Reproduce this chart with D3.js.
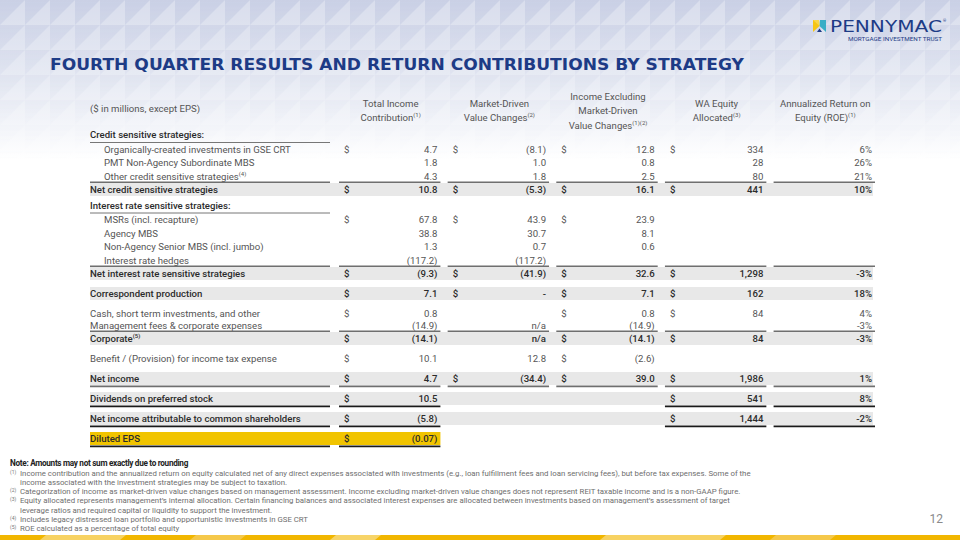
<!DOCTYPE html>
<html><head><meta charset="utf-8">
<script src="https://cdn.jsdelivr.net/npm/d3@7"></script>
<style>body{margin:0;background:#fff}svg{display:block}</style>
</head><body><svg id="c" width="960" height="540"></svg>
<script>
// ---------------- DATA ----------------
const titleText = "FOURTH QUARTER RESULTS AND RETURN CONTRIBUTIONS BY STRATEGY";
const unitsNote = "($ in millions, except EPS)";
const columnKeys = ["total", "market", "excl", "equity", "roe"];
const headerLines = [["Total Income", "Contribution"], ["Market-Driven", "Value Changes"], ["Income Excluding", "Market-Driven", "Value Changes"], ["WA Equity", "Allocated"], ["Annualized Return on", "Equity (ROE)"]];
const headerNotes = ["(1)", "(2)", "(1)(2)", "(3)", "(1)"];

const rowLabels = ["Credit sensitive strategies:", "Organically-created investments in GSE CRT", "PMT Non-Agency Subordinate MBS", "Other credit sensitive strategies", "Net credit sensitive strategies",
  "Interest rate sensitive strategies:", "MSRs (incl. recapture)", "Agency MBS", "Non-Agency Senior MBS (incl. jumbo)", "Interest rate hedges", "Net interest rate sensitive strategies",
  "Correspondent production", "Cash, short term investments, and other", "Management fees & corporate expenses", "Corporate",
  "Benefit / (Provision) for income tax expense", "Net income", "Dividends on preferred stock", "Net income attributable to common shareholders", "Diluted EPS"];
const rowNotes = ["", "", "", "(4)", "", "", "", "", "", "", "", "", "", "", "(5)", "", "", "", "", ""];
const rowKinds = ["head", "sub", "sub", "sub", "subtotal", "head", "sub", "sub", "sub", "sub", "subtotal", "band", "plain", "plain", "subtotal", "plain", "grand", "final", "final", "eps"];

const totalIncome  = [null, 4.7, 1.8, 4.3, 10.8, null, 67.8, 38.8, 1.3, -117.2, -9.3, 7.1, 0.8, -14.9, -14.1, 10.1, 4.7, 10.5, -5.8, -0.07];
const marketDriven = [null, -8.1, 1.0, 1.8, -5.3, null, 43.9, 30.7, 0.7, -117.2, -41.9, 0, null, "n/a", "n/a", 12.8, -34.4, null, null, null];
const incomeExcl   = [null, 12.8, 0.8, 2.5, 16.1, null, 23.9, 8.1, 0.6, null, 32.6, 7.1, 0.8, -14.9, -14.1, -2.6, 39.0, null, null, null];
const equityAlloc  = [null, 334, 28, 80, 441, null, null, null, null, null, 1298, 162, 84, null, 84, null, 1986, 541, 1444, null];
const roePct       = [null, 6, 26, 21, 10, null, null, null, null, null, -3, 18, 4, -3, -3, null, 1, 8, -2, null];

const totalDollar  = [0,1,0,0,1,0,1,0,0,0,1,1,1,0,1,1,1,1,1,1];
const marketDollar = [0,1,0,0,1,0,1,0,0,0,1,1,0,0,0,0,1,0,0,0];
const exclDollar   = [0,1,0,0,1,0,1,0,0,0,1,1,1,0,1,1,1,0,0,0];
const equityDollar = [0,1,0,0,1,0,0,0,0,0,1,1,1,0,1,0,1,1,1,0];
const roeDollar    = [0,0,0,0,0,0,0,0,0,0,0,0,0,0,0,0,0,0,0,0];

const footNoteHead = "Note: Amounts may not sum exactly due to rounding";
const footMarks = ["(1)", "", "(2)", "(3)", "", "(4)", "(5)"];
const footLines = [
  "Income contribution and the annualized return on equity calculated net of any direct expenses associated with investments (e.g., loan fulfillment fees and loan servicing fees), but before tax expenses.  Some of the",
  "income associated with the investment strategies may be subject to taxation.",
  "Categorization of income as market-driven value changes based on management assessment. Income excluding market-driven value changes does not represent REIT taxable income and is a non-GAAP figure.",
  "Equity allocated represents management\u2019s internal allocation. Certain financing balances and associated interest expenses are allocated between investments based on management\u2019s assessment of target",
  "leverage ratios and required capital or liquidity to support the investment.",
  "Includes legacy distressed loan portfolio and opportunistic investments in GSE CRT",
  "ROE calculated as a percentage of total equity"];
const pageNumber = "12";

// ---------------- DRAW ----------------
const svg = d3.select("#c");
const defs = svg.append("defs");
const FONT = "Roboto, 'Liberation Sans', sans-serif";

// background gradient + triangle pattern
const g1 = defs.append("linearGradient").attr("id", "bg").attr("x1", 0).attr("y1", 0).attr("x2", 0).attr("y2", 1);
g1.append("stop").attr("offset", 0).attr("stop-color", "#cdd3e7");
g1.append("stop").attr("offset", 0.45).attr("stop-color", "#e3e7f2");
g1.append("stop").attr("offset", 1).attr("stop-color", "#ffffff");
svg.append("rect").attr("width", 960).attr("height", 160).attr("fill", "url(#bg)");
const pat = defs.append("pattern").attr("id", "tri").attr("width", 25).attr("height", 25).attr("patternUnits", "userSpaceOnUse");
pat.append("path").attr("d", "M0,25 L25,0 L25,25 Z").attr("fill", "#ffffff").attr("opacity", 0.25);
pat.append("path").attr("d", "M0,0 L25,0 L0,25 Z").attr("fill", "#b8c0da").attr("opacity", 0.14);
const mg = defs.append("linearGradient").attr("id", "fade").attr("x1", 0).attr("y1", 0).attr("x2", 0).attr("y2", 1);
mg.append("stop").attr("offset", 0).attr("stop-color", "#fff");
mg.append("stop").attr("offset", 1).attr("stop-color", "#000");
defs.append("mask").attr("id", "fm").append("rect").attr("width", 960).attr("height", 160).attr("fill", "url(#fade)");
svg.append("rect").attr("width", 960).attr("height", 160).attr("fill", "url(#tri)").attr("mask", "url(#fm)");

// bottom bar
svg.append("rect").attr("x", 0).attr("y", 535).attr("width", 960).attr("height", 5).attr("fill", "#f1b600");
[[40, 120, "#f7d262"], [190, 240, "#f5c84a"], [330, 375, "#f7d468"], [600, 720, "#f7d262"], [770, 830, "#f5c84a"]].forEach(s => {
  svg.append("path").attr("d", `M${s[0]},540 L${s[0] + 6},535 L${s[1] + 6},535 L${s[1]},540 Z`).attr("fill", s[2]);
});

// title
svg.append("text").attr("x", 50).attr("y", 70).attr("font-family", "'DejaVu Sans', sans-serif").attr("font-weight", "bold")
  .attr("font-size", 16.5).attr("fill", "#1d3b86").attr("textLength", 694).attr("lengthAdjust", "spacingAndGlyphs").text(titleText);

// logo
const logo = svg.append("g");
logo.append("path").attr("d", "M813,20 L819,20 L819.5,26 L813,32 Z").attr("fill", "#f6c514");
logo.append("path").attr("d", "M820,20 L826,20 L826,32 L819.5,26 Z").attr("fill", "#39aec6");
logo.append("path").attr("d", "M813,20 L819,20 L819.5,26 Z").attr("fill", "#f8d64a");
logo.append("path").attr("d", "M817,32 L819.5,28.5 L822,32 Z").attr("fill", "#1d3b86");
logo.append("text").attr("x", 830).attr("y", 31.5).attr("font-family", "'DejaVu Sans', sans-serif").attr("font-size", 15)
  .attr("fill", "#1d3b86").attr("textLength", 112).attr("lengthAdjust", "spacingAndGlyphs").text("PENNYMAC");
logo.append("text").attr("x", 943).attr("y", 22).attr("font-family", FONT).attr("font-size", 4).attr("fill", "#1d3b86").text("\u00ae");
logo.append("text").attr("x", 848).attr("y", 40.5).attr("font-family", FONT).attr("font-size", 4.6)
  .attr("fill", "#1d3b86").attr("textLength", 94).attr("lengthAdjust", "spacingAndGlyphs").text("MORTGAGE INVESTMENT TRUST");

// table scales
const x = d3.scaleBand().domain(columnKeys).range([339, 873]).paddingInner(0.085);
const labelX0 = 90, labelX1 = 330, tableX1 = 873;
function gap(prev, k) {
  if (prev === "head") return 14.5;
  if (k === "sub") return 13.5;
  if (k === "subtotal" && prev === "sub") return 13;
  if (k === "subtotal" && prev === "plain") return 13;
  if (k === "plain" && prev === "plain") return 12;
  if (k === "head") return 16;
  return 20;
}
const offs = [];
rowKinds.forEach((k, i) => offs.push(i === 0 ? 0 : offs[i - 1] + gap(rowKinds[i - 1], k)));
const y = d3.scaleLinear().domain([0, 1]).range([135, 136]);

const colValues = [totalIncome, marketDriven, incomeExcl, equityAlloc, roePct];
const colDollar = [totalDollar, marketDollar, exclDollar, equityDollar, roeDollar];

function fmt(v, ci) {
  if (typeof v === "string") return v;
  if (ci === 4) return (v < 0 ? "-" : "") + Math.abs(v) + "%";
  if (v === 0) return "-";
  const dec = ci === 3 ? 0 : (Math.abs(Math.round(v * 10) - v * 10) < 1e-9 ? 1 : 2);
  const s = d3.format("," + "." + dec + "f")(Math.abs(v));
  return v < 0 ? "(" + s + ")" : s;
}

const boldKinds = new Set(["head", "subtotal", "band", "grand", "final", "eps"]);
const bandKinds = new Set(["subtotal", "band", "grand", "final"]);

// header
const header = svg.append("g").attr("font-family", FONT).attr("font-size", 9.6).attr("fill", "#555");
header.append("text").attr("x", labelX0).attr("y", 112).text(unitsNote);
columnKeys.forEach((c, ci) => {
  const lines = headerLines[ci];
  const cx = x(c) + x.bandwidth() / 2 + 2;
  const y0 = 110.5 - (lines.length - 1) * 14.5 / 2;
  lines.forEach((ln, li) => {
    const t = header.append("text").attr("x", cx).attr("y", y0 + li * 14.5 + 3.5).attr("text-anchor", "middle");
    t.append("tspan").text(ln);
    if (li === lines.length - 1) t.append("tspan").attr("font-size", 6).attr("dy", -4).text(headerNotes[ci]);
  });
});

// rows
const body = svg.append("g").attr("font-family", FONT).attr("font-size", 9.6);
const rows = body.selectAll("g.row").data(rowLabels.map((l, i) => i)).join("g").attr("class", "row");

rows.each(function (i) {
  const g = d3.select(this);
  const k = rowKinds[i];
  const cy = y(offs[i]);
  const bold = boldKinds.has(k);
  const col = bold ? "#2b2b2b" : "#555";
  const weight = bold ? 500 : 400;
  if (bandKinds.has(k)) g.append("rect").attr("x", labelX0).attr("y", cy - 6.5).attr("width", tableX1 - labelX0).attr("height", 13).attr("fill", "#e8e8e8");
  if (k === "eps") g.append("rect").attr("x", labelX0).attr("y", cy - 6.5).attr("width", x("total") + x.bandwidth() - labelX0 + 2).attr("height", 13).attr("fill", "#f1c400");

  const segs = [[labelX0, labelX1]];
  columnKeys.forEach((c, ci) => { if (colValues[ci][i] !== null) segs.push([x(c), x(c) + x.bandwidth() + 2]); });
  const line = (yy, color, w, list) => list.forEach(s => g.append("line").attr("x1", s[0]).attr("x2", s[1]).attr("y1", yy).attr("y2", yy).attr("stroke", color).attr("stroke-width", w));
  if (k === "head") line(cy + 7.5, "#777", 1, [[labelX0, labelX1]]);
  if (k === "subtotal") line(cy - 7.2, "#6f6f6f", 1.5, segs);
  if (k === "grand") line(cy + 7.8, "#6f6f6f", 1.8, segs);
  if (k === "final" || k === "eps") line(cy + 7.8, "#1a1a1a", 1.8, segs);

  const lx = k === "sub" ? 104 : labelX0;
  const t = g.append("text").attr("x", lx).attr("y", cy + 3.3).attr("fill", col).attr("font-weight", weight);
  t.append("tspan").text(rowLabels[i]);
  if (rowNotes[i]) t.append("tspan").attr("font-size", 6).attr("dy", -4).text(rowNotes[i]);

  columnKeys.forEach((c, ci) => {
    const v = colValues[ci][i];
    if (v === null) return;
    if (colDollar[ci][i]) g.append("text").attr("x", x(c) + 5).attr("y", cy + 3.3).attr("fill", col).attr("font-weight", weight).text("$");
    g.append("text").attr("x", x(c) + x.bandwidth() - 1).attr("y", cy + 3.3).attr("text-anchor", "end").attr("fill", col).attr("font-weight", weight).text(fmt(v, ci));
  });
});

// footnotes
const foot = svg.append("g").attr("font-family", FONT);
foot.append("text").attr("x", 10).attr("y", 466).attr("font-size", 8.2).attr("font-weight", "bold").attr("fill", "#222").attr("letter-spacing", -0.3).text(footNoteHead);
footLines.forEach((ln, i) => {
  const yy = 475.5 + i * 9.3;
  const hasMark = footMarks[i] !== "";
  if (hasMark) foot.append("text").attr("x", 10).attr("y", yy - 2).attr("font-size", 5).attr("fill", "#777").text(footMarks[i]);
  foot.append("text").attr("x", 20).attr("y", yy).attr("font-size", 7.8).attr("fill", "#6e6e6e").text(ln);
});
svg.append("text").attr("x", 943).attr("y", 523).attr("text-anchor", "end").attr("font-family", FONT).attr("font-size", 12).attr("fill", "#8a8a8a").text(pageNumber);
</script></body></html>
